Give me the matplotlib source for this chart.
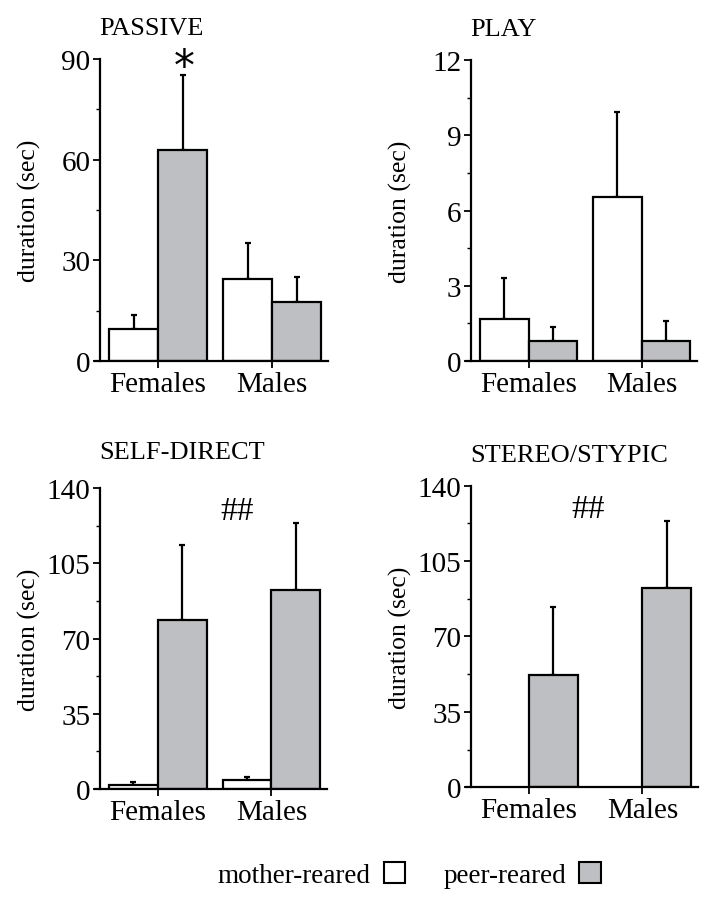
import matplotlib
matplotlib.use("Agg")
import matplotlib.pyplot as plt
from matplotlib.patches import Patch
from matplotlib.ticker import MultipleLocator
import numpy as np

plt.rcParams['font.family'] = ['Liberation Serif', 'DejaVu Serif']

groups = ["Females", "Males"]
titles = ["PASSIVE", "PLAY", "SELF-DIRECT", "STEREO/STYPIC"]
legend_labels = ["mother-reared", "peer-reared"]

mother_vals = [[9.4, 24.4], [1.67, 6.55], [1.9, 4.2], [0.0, 0.0]]
mother_err = [[4.4, 10.8], [1.63, 3.36], [1.5, 1.4], [0.0, 0.0]]
peer_vals = [[62.9, 17.5], [0.81, 0.81], [78.7, 92.5], [52.1, 92.3]]
peer_err = [[22.3, 7.4], [0.53, 0.79], [34.9, 31.3], [31.4, 31.1]]

ymax = [90, 12, 140, 140]
ystep = [30, 3, 35, 35]
annotations = [("*", 0.23, 87.5), None, ("##", 0.70, 129.6), ("##", 0.52, 129.1)]

gray = "#bebfc3"
W, H = 714, 903
fig = plt.figure(figsize=(W / 100, H / 100), dpi=100)

# axes boxes in pixels: left, axis-bottom y, width, height
boxes = [(95, 362, 233, 302), (466, 362, 231, 301),
         (95, 790, 232, 300.7), (466, 788.3, 232, 301.7)]

bw = 0.43
for i, (l, b, w, h) in enumerate(boxes):
    ax = fig.add_axes([l / W, (H - b) / H, w / W, h / H])
    x = np.arange(len(groups))
    mv = np.array(mother_vals[i]); me = np.array(mother_err[i])
    pv = np.array(peer_vals[i]); pe = np.array(peer_err[i])
    for xs, vals, errs, col in [(x - bw / 2, mv, me, "white"), (x + bw / 2, pv, pe, gray)]:
        mask = vals > 0
        ax.bar(xs[mask], vals[mask], width=bw, color=col, edgecolor="black",
               linewidth=1.6, zorder=2)
        if mask.any():
            ax.errorbar(xs[mask], vals[mask],
                        yerr=[np.zeros(mask.sum()), errs[mask]],
                        fmt="none", ecolor="black", elinewidth=1.6,
                        capsize=2.5, capthick=1.6, zorder=1)
    ax.set_xlim(-0.553, 1.49)
    ax.set_ylim(0, ymax[i])
    ax.spines['left'].set_position(('data', -0.509))
    ax.spines['top'].set_visible(False)
    ax.spines['right'].set_visible(False)
    for s in ('left', 'bottom'):
        ax.spines[s].set_linewidth(1.6)
    ax.set_xticks(x)
    ax.set_xticklabels(groups, fontsize=21)
    ax.yaxis.set_major_locator(MultipleLocator(ystep[i]))
    ax.yaxis.set_minor_locator(MultipleLocator(ystep[i] / 2))
    ax.tick_params(axis='y', which='major', length=5, width=1.3, labelsize=21, pad=2)
    ax.tick_params(axis='y', which='minor', length=3, width=1.0)
    ax.tick_params(axis='x', which='major', length=5, width=1.3, pad=2)
    ax.set_ylabel("duration (sec)", fontsize=18.5)
    ax.yaxis.set_label_coords(-0.232, 0.5)
    ax.annotate(titles[i], xy=(0.02, 1.0), xycoords='axes fraction',
                xytext=(0, 22 if i != 2 else 26), textcoords='offset points',
                ha='left', va='center', fontsize=19)
    a = annotations[i]
    if a is not None:
        txt, ax_x, ax_y = a
        if txt == "*":
            ax.text(ax_x, ax_y, txt, ha='center', va='center', fontsize=30,
                    family='DejaVu Sans', clip_on=False)
        else:
            ax.text(ax_x, ax_y, txt, ha='center', va='center', fontsize=24)

handles = [Patch(facecolor="white", edgecolor="black", linewidth=1.5),
           Patch(facecolor=gray, edgecolor="black", linewidth=1.5)]
fig.legend(handles, legend_labels, loc='center', bbox_to_anchor=(409 / W, (H - 876) / H),
           ncol=2, frameon=False, markerfirst=False, fontsize=19.5,
           handlelength=0.8, handleheight=0.8, handletextpad=0.5, columnspacing=1.4)

fig.savefig("out.png", dpi=100)
